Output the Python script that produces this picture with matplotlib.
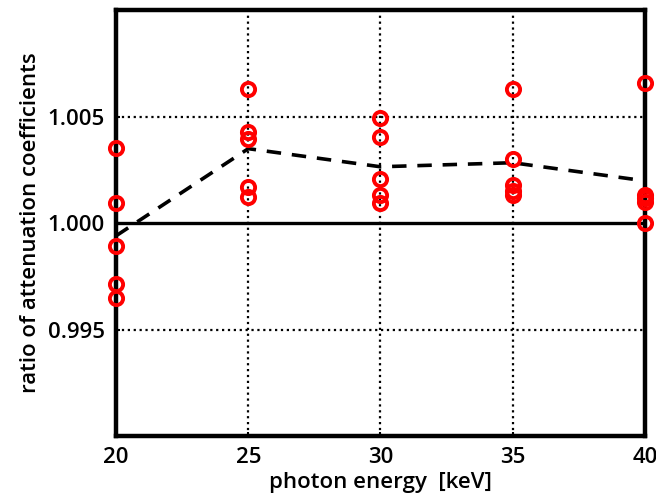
import matplotlib.pyplot as plt

# photon energies [keV]
energy = [20, 25, 30, 35, 40]

# individual ratios per energy
ratios_20 = [1.00354, 1.00094, 0.99892, 0.99712, 0.99646]
ratios_25 = [1.00627, 1.00429, 1.00396, 1.00170, 1.00123]
ratios_30 = [1.00491, 1.00406, 1.00208, 1.00132, 1.00094]
ratios_35 = [1.00627, 1.00302, 1.00179, 1.00151, 1.00132]
ratios_40 = [1.00656, 1.00132, 1.00118, 1.00100, 1.00000]

# dashed line (mean per energy)
mean_ratio = [0.99940, 1.00349, 1.00264, 1.00283, 1.00198]

yticks = [0.995, 1.000, 1.005]
ytick_labels = ['0.995', '1.000', '1.005']

plt.rcParams['font.family'] = ['Open Sans', 'DejaVu Sans']

fig = plt.figure(figsize=(6.56, 5), dpi=100)
ax = fig.add_axes([0.177, 0.128, 0.806, 0.852])

# grid lines
for x in [25, 30, 35]:
    ax.axvline(x, color='black', linestyle=':', linewidth=1.6, zorder=1)
for y in [0.995, 1.005]:
    ax.axhline(y, color='black', linestyle=':', linewidth=1.6, zorder=1)
ax.axhline(1.0, color='black', linewidth=2.4, zorder=2)

ax.plot(energy, mean_ratio, color='black', linestyle='--', linewidth=2.6,
        dashes=(4, 3), zorder=3)

all_ratios = [ratios_20, ratios_25, ratios_30, ratios_35, ratios_40]
for e, vals in zip(energy, all_ratios):
    ax.plot([e] * len(vals), vals, linestyle='none', marker='o',
            markersize=9.5, markerfacecolor='none', markeredgecolor='red',
            markeredgewidth=2.8, zorder=4, clip_on=False)

ax.set_xlim(20, 40)
ax.set_ylim(0.990, 1.010)
ax.set_xticks(energy)
ax.set_yticks(yticks)
ax.set_yticklabels(ytick_labels)
ax.tick_params(direction='in', length=3, width=1.5, labelsize=16, pad=8)
for t in ax.get_xticklabels() + ax.get_yticklabels():
    t.set_fontweight('semibold')

for s in ax.spines.values():
    s.set_linewidth(3.2)

ax.set_xlabel('photon energy  [keV]', fontsize=16, fontweight='semibold', labelpad=3)
ax.set_ylabel('ratio of attenuation coefficients', fontsize=16, fontweight='semibold', labelpad=5)

plt.savefig('out.png', dpi=100)
